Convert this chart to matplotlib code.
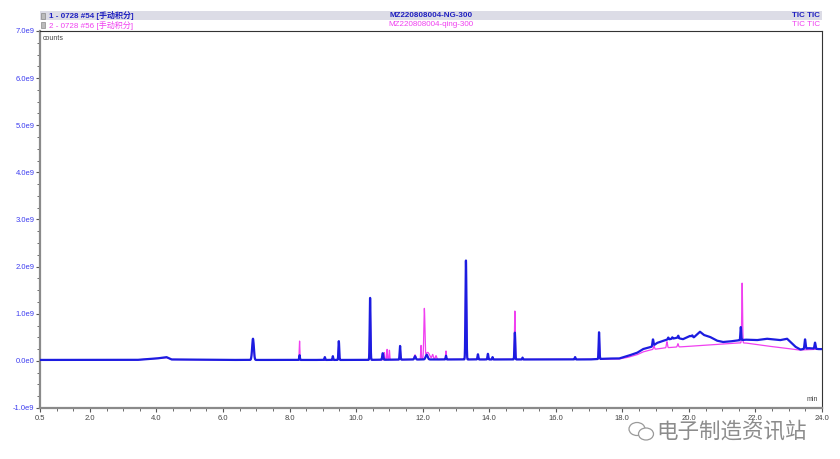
import numpy as np
import matplotlib
matplotlib.use("Agg")
import matplotlib.pyplot as plt
from matplotlib.patches import Rectangle, Ellipse

plt.rcParams['font.family'] = ['Liberation Sans', 'Noto Sans CJK SC', 'DejaVu Sans']

# ---------------- data (values in 1e9 counts, times in min) ----------------
# Sample 1 (blue, NG)
ng_base_rt = [0.5, 3.4, 4.0, 4.3, 4.45, 6.0, 10.0, 12.0, 15.0, 17.0, 17.6, 17.9, 18.14, 18.44,
              18.62, 18.89, 19.04, 19.2, 19.34, 19.5, 19.64, 19.82, 20.03, 20.15, 20.33, 20.45,
              20.63, 20.84, 21.02, 21.2, 21.44, 21.7, 22.04, 22.34, 22.74, 22.95, 23.2, 23.35,
              23.6, 23.9, 24.0]
ng_base_val = [0.02, 0.02, 0.05, 0.08, 0.03, 0.02, 0.02, 0.03, 0.03, 0.03, 0.05, 0.05, 0.10, 0.17,
               0.25, 0.30, 0.38, 0.42, 0.45, 0.47, 0.49, 0.46, 0.53, 0.50, 0.62, 0.55,
               0.51, 0.43, 0.40, 0.41, 0.43, 0.45, 0.44, 0.47, 0.44, 0.47, 0.30, 0.24,
               0.27, 0.25, 0.25]
ng_peak_rt = [6.9, 8.3, 9.06, 9.3, 9.48, 10.42, 10.8, 11.32, 11.77, 12.12, 12.7, 13.3, 13.66,
              13.96, 14.1, 14.77, 15.0, 16.58, 17.3, 18.92, 19.38, 19.5, 19.68, 20.1, 21.56,
              23.49, 23.79]
ng_peak_h = [0.45, 0.10, 0.06, 0.08, 0.40, 1.32, 0.14, 0.29, 0.07, 0.10, 0.08, 2.10, 0.11,
             0.12, 0.05, 0.57, 0.04, 0.05, 0.57, 0.14, 0.04, 0.03, 0.05, 0.03, 0.28,
             0.20, 0.13]
ng_peak_w = [0.025, 0.010, 0.010, 0.010, 0.012, 0.012, 0.015, 0.012, 0.020, 0.030, 0.010, 0.014, 0.012,
             0.012, 0.010, 0.012, 0.010, 0.012, 0.012, 0.015, 0.012, 0.012, 0.012, 0.015, 0.012,
             0.015, 0.015]

# Sample 2 (magenta, qing)
qing_base_rt = [0.5, 3.4, 4.0, 4.3, 4.45, 6.0, 10.0, 12.0, 15.0, 17.0, 17.9, 18.14, 18.44, 18.62,
                18.9, 19.22, 19.52, 19.82, 20.63, 21.44, 21.7, 22.3, 22.9, 23.3, 24.0]
qing_base_val = [0.02, 0.02, 0.05, 0.07, 0.03, 0.02, 0.02, 0.03, 0.03, 0.03, 0.04, 0.07, 0.13, 0.19,
                 0.24, 0.27, 0.29, 0.30, 0.34, 0.38, 0.38, 0.32, 0.27, 0.23, 0.25]
qing_peak_rt = [6.9, 8.3, 9.48, 10.42, 10.85, 10.93, 11.0, 11.32, 11.77, 11.95, 12.05, 12.15,
                12.3, 12.4, 12.7, 13.3, 13.66, 13.96, 14.77, 17.3, 18.95, 19.34, 19.67, 21.6]
qing_peak_h = [0.43, 0.40, 0.38, 1.30, 0.15, 0.22, 0.20, 0.28, 0.10, 0.30, 1.05, 0.15,
               0.10, 0.08, 0.18, 2.00, 0.10, 0.11, 1.03, 0.55, 0.07, 0.13, 0.07, 1.27]
qing_peak_w = [0.025, 0.010, 0.012, 0.012, 0.010, 0.010, 0.010, 0.012, 0.020, 0.010, 0.016, 0.060,
               0.020, 0.020, 0.010, 0.014, 0.012, 0.012, 0.012, 0.012, 0.015, 0.015, 0.015, 0.012]

x_ticks = [0.5, 2.0, 4.0, 6.0, 8.0, 10.0, 12.0, 14.0, 16.0, 18.0, 20.0, 22.0, 24.0]
y_ticks = [-1.0, 0.0, 1.0, 2.0, 3.0, 4.0, 5.0, 6.0, 7.0]
y_tick_labels = ["-1.0e9", "0.0e0", "1.0e9", "2.0e9", "3.0e9", "4.0e9", "5.0e9", "6.0e9", "7.0e9"]


def trace(t, base_rt, base_val, prt, ph, pw):
    y = np.interp(t, base_rt, base_val)
    for r, h, w in zip(prt, ph, pw):
        y = y + h * np.exp(-0.5 * ((t - r) / w) ** 2)
    return y


t = np.linspace(0.5, 24.0, 8000)
ng = trace(t, ng_base_rt, ng_base_val, ng_peak_rt, ng_peak_h, ng_peak_w)
qing = trace(t, qing_base_rt, qing_base_val, qing_peak_rt, qing_peak_h, qing_peak_w)

# ---------------- figure ----------------
W, H = 840, 459
fig = plt.figure(figsize=(W / 100, H / 100), dpi=100)
L, R, T, B = 40, 822, 31, 408
ax = fig.add_axes([L / W, 1 - B / H, (R - L) / W, (B - T) / H])

BLUE = "#1c1ce0"
MAG = "#f040f0"
ax.plot(t, qing, color=MAG, lw=0.9, zorder=2)
ax.plot(t, ng, color=BLUE, lw=1.6, zorder=3)

ax.set_xlim(0.5, 24.0)
ax.set_ylim(-1.0, 7.0)
ax.set_xticks(x_ticks)
ax.set_xticklabels([f"{v:.1f}" for v in x_ticks])
ax.set_xticks(np.arange(0.5, 24.01, 0.5), minor=True)
ax.set_yticks(y_ticks)
ax.set_yticklabels(y_tick_labels)
ax.set_yticks(np.arange(-1.0, 7.01, 0.25), minor=True)

ax.tick_params(axis='y', which='major', direction='out', length=3, width=0.8,
               labelsize=5.5, labelcolor="#3c3cf0", color="#555555", pad=1)
ax.tick_params(axis='y', which='minor', direction='out', length=2, width=0.6, color="#555555")
ax.tick_params(axis='x', which='major', direction='out', length=3, width=0.8,
               labelsize=5.5, labelcolor="#444444", color="#555555", pad=2)
ax.tick_params(axis='x', which='minor', direction='out', length=2, width=0.6, color="#555555")

for s in ['left', 'bottom']:
    ax.spines[s].set_color("#8a8a8a")
    ax.spines[s].set_linewidth(1.6)
for s in ['top', 'right']:
    ax.spines[s].set_color("#333333")
    ax.spines[s].set_linewidth(0.8)

ax.text(0.004, 0.99, "counts", transform=ax.transAxes, ha='left', va='top',
        fontsize=5, color="#444444")
ax.text(0.995, 0.012, "min", transform=ax.transAxes, ha='right', va='bottom',
        fontsize=5, color="#444444")

# ---------------- header ----------------
def fx(px):
    return px / W


def fy(py):
    return 1 - py / H


fig.patches.append(Rectangle((fx(40), fy(19.5)), fx(822) - fx(40), (19.5 - 11.5) / H,
                             transform=fig.transFigure, facecolor="#dcdce6",
                             edgecolor="none", zorder=0))
for py in (12.5, 21.5):
    fig.patches.append(Rectangle((fx(41), fy(py + 6)), 4 / W, 6 / H, transform=fig.transFigure,
                                 facecolor="#bbbbbb", edgecolor="#777777", lw=0.4, zorder=1))

fig.text(fx(49), fy(15.5), "1 - 0728 #54 [手动积分]", fontsize=5.8, color="#2020c0",
         fontweight='bold', ha='left', va='center')
fig.text(fx(431), fy(15.5), "MZ220808004-NG-300", fontsize=5.8, color="#2020c0",
         fontweight='bold', ha='center', va='center')
fig.text(fx(820), fy(15.5), "TIC TIC", fontsize=5.8, color="#2020c0",
         fontweight='bold', ha='right', va='center')
fig.text(fx(49), fy(25), "2 - 0728 #56 [手动积分]", fontsize=5.8, color=MAG,
         ha='left', va='center')
fig.text(fx(431), fy(25), "MZ220808004-qing-300", fontsize=5.8, color=MAG,
         ha='center', va='center')
fig.text(fx(820), fy(25), "TIC TIC", fontsize=5.8, color=MAG,
         ha='right', va='center')

# ---------------- watermark ----------------
fig.text(fx(656), fy(432), "电子制造资讯站", fontsize=15.5, color="#8c8c8c",
         ha='left', va='center', family=['Noto Sans CJK SC', 'DejaVu Sans'])
fig.patches.append(Ellipse((fx(637), fy(429)), 16 / W, 13 / H, transform=fig.transFigure,
                           facecolor="white", edgecolor="#9a9a9a", lw=0.9))
fig.patches.append(Ellipse((fx(646), fy(434)), 15 / W, 12 / H, transform=fig.transFigure,
                           facecolor="white", edgecolor="#9a9a9a", lw=0.9))

fig.savefig("out.png", dpi=100, facecolor="white")
